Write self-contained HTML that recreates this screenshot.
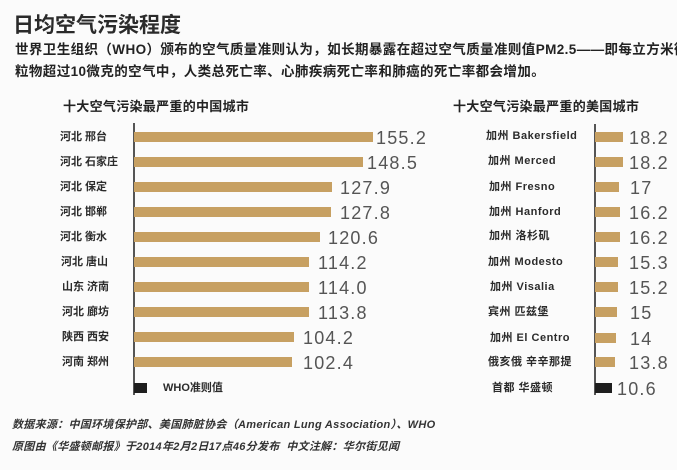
<!DOCTYPE html>
<html>
<head>
<meta charset="utf-8">
<style>
  html,body{margin:0;padding:0;}
  body{width:677px;height:470px;background:#fbfbfb;position:relative;overflow:hidden;
       font-family:"Liberation Sans","Noto Sans CJK SC",sans-serif;color:#222;}
  .abs{position:absolute;white-space:nowrap;}
  .title{left:13px;top:12px;font-size:21px;line-height:28px;font-weight:700;color:#2a2a2a;}
  .sub{left:15px;font-size:13.5px;line-height:18px;font-weight:700;letter-spacing:0.4px;color:#222;}
  .sec{font-size:13px;line-height:16px;font-weight:700;letter-spacing:0.3px;color:#222;}
  .lab{font-size:11px;line-height:16px;font-weight:700;color:#2b2b2b;height:16px;}
  .rlab{font-size:11px;line-height:16px;font-weight:700;color:#2b2b2b;letter-spacing:0.5px;height:16px;}
  .bar{position:absolute;height:10px;background:#c7a062;margin-top:-0.5px;}
  .blk{position:absolute;height:10px;background:#1e1e1e;margin-top:-0.5px;}
  .val{font-size:18px;line-height:20px;color:#555;letter-spacing:1.2px;height:20px;}
  .axis{position:absolute;width:1.5px;background:#555;}
  .foot{left:12px;font-size:11px;line-height:14px;font-weight:700;font-style:italic;color:#333;letter-spacing:0.3px;}
</style>
</head>
<body>
<div class="abs title">日均空气污染程度</div>
<div class="abs sub" style="top:41px;">世界卫生组织（WHO）颁布的空气质量准则认为，如长期暴露在超过空气质量准则值PM2.5——即每立方米微</div>
<div class="abs sub" style="top:63px;">粒物超过10微克的空气中，人类总死亡率、心肺疾病死亡率和肺癌的死亡率都会增加。</div>

<div class="abs sec" style="left:63px;top:99px;">十大空气污染最严重的中国城市</div>
<div class="abs sec" style="left:453px;top:99px;">十大空气污染最严重的美国城市</div>

<!-- axes -->
<div class="axis" style="left:133px;top:123px;height:272px;"></div>
<div class="axis" style="left:594px;top:124px;height:271px;"></div>

<!-- Left chart -->
<div class="abs lab" style="left:60px;top:129px;">河北 邢台</div>
<div class="bar" style="left:134px;top:132px;width:239px;"></div>
<div class="abs val" style="left:376px;top:128px;">155.2</div>

<div class="abs lab" style="left:60px;top:154px;">河北 石家庄</div>
<div class="bar" style="left:134px;top:157px;width:229px;"></div>
<div class="abs val" style="left:367px;top:153px;">148.5</div>

<div class="abs lab" style="left:60px;top:179px;">河北 保定</div>
<div class="bar" style="left:134px;top:182px;width:198px;"></div>
<div class="abs val" style="left:340px;top:178px;">127.9</div>

<div class="abs lab" style="left:60px;top:204px;">河北 邯郸</div>
<div class="bar" style="left:134px;top:207px;width:197px;"></div>
<div class="abs val" style="left:340px;top:203px;">127.8</div>

<div class="abs lab" style="left:60px;top:229px;">河北 衡水</div>
<div class="bar" style="left:134px;top:232px;width:186px;"></div>
<div class="abs val" style="left:328px;top:228px;">120.6</div>

<div class="abs lab" style="left:61px;top:254px;">河北 唐山</div>
<div class="bar" style="left:134px;top:257px;width:175px;"></div>
<div class="abs val" style="left:318px;top:253px;">114.2</div>

<div class="abs lab" style="left:62px;top:279px;">山东 济南</div>
<div class="bar" style="left:134px;top:282px;width:175px;"></div>
<div class="abs val" style="left:318px;top:278px;">114.0</div>

<div class="abs lab" style="left:62px;top:304px;">河北 廊坊</div>
<div class="bar" style="left:134px;top:307px;width:175px;"></div>
<div class="abs val" style="left:318px;top:303px;">113.8</div>

<div class="abs lab" style="left:62px;top:329px;">陕西 西安</div>
<div class="bar" style="left:134px;top:332px;width:160px;"></div>
<div class="abs val" style="left:303px;top:328px;">104.2</div>

<div class="abs lab" style="left:62px;top:354px;">河南 郑州</div>
<div class="bar" style="left:134px;top:357px;width:158px;"></div>
<div class="abs val" style="left:303px;top:353px;">102.4</div>

<div class="blk" style="left:134px;top:383px;width:13px;"></div>
<div class="abs lab" style="left:163px;top:380px;">WHO准则值</div>

<!-- Right chart -->
<div class="abs rlab" style="left:486px;top:128px;">加州 Bakersfield</div>
<div class="bar" style="left:595px;top:132px;width:28px;"></div>
<div class="abs val" style="left:629px;top:128px;">18.2</div>

<div class="abs rlab" style="left:488px;top:153px;">加州 Merced</div>
<div class="bar" style="left:595px;top:157px;width:28px;"></div>
<div class="abs val" style="left:629px;top:153px;">18.2</div>

<div class="abs rlab" style="left:489px;top:179px;">加州 Fresno</div>
<div class="bar" style="left:595px;top:182px;width:24px;"></div>
<div class="abs val" style="left:630px;top:178px;">17</div>

<div class="abs rlab" style="left:489px;top:204px;">加州 Hanford</div>
<div class="bar" style="left:595px;top:207px;width:25px;"></div>
<div class="abs val" style="left:629px;top:203px;">16.2</div>

<div class="abs rlab" style="left:489px;top:228px;">加州 洛杉矶</div>
<div class="bar" style="left:595px;top:232px;width:25px;"></div>
<div class="abs val" style="left:629px;top:228px;">16.2</div>

<div class="abs rlab" style="left:488px;top:254px;">加州 Modesto</div>
<div class="bar" style="left:595px;top:257px;width:23px;"></div>
<div class="abs val" style="left:629px;top:253px;">15.3</div>

<div class="abs rlab" style="left:490px;top:279px;">加州 Visalia</div>
<div class="bar" style="left:595px;top:282px;width:23px;"></div>
<div class="abs val" style="left:629px;top:278px;">15.2</div>

<div class="abs rlab" style="left:488px;top:304px;">宾州 匹兹堡</div>
<div class="bar" style="left:595px;top:307px;width:22px;"></div>
<div class="abs val" style="left:630px;top:303px;">15</div>

<div class="abs rlab" style="left:490px;top:330px;">加州 El Centro</div>
<div class="bar" style="left:595px;top:333px;width:21px;"></div>
<div class="abs val" style="left:630px;top:329px;">14</div>

<div class="abs rlab" style="left:488px;top:354px;">俄亥俄 辛辛那提</div>
<div class="bar" style="left:595px;top:357px;width:20px;"></div>
<div class="abs val" style="left:629px;top:353px;">13.8</div>

<div class="abs rlab" style="left:492px;top:380px;">首都 华盛顿</div>
<div class="blk" style="left:595px;top:383px;width:17px;"></div>
<div class="abs val" style="left:617px;top:379px;">10.6</div>

<!-- Footer -->
<div class="abs foot" style="top:418px;">数据来源：中国环境保护部、美国肺脏协会（American Lung Association）、WHO</div>
<div class="abs foot" style="top:440px;">原图由《华盛顿邮报》于2014年2月2日17点46分发布&nbsp; 中文注解：华尔街见闻</div>
</body>
</html>
